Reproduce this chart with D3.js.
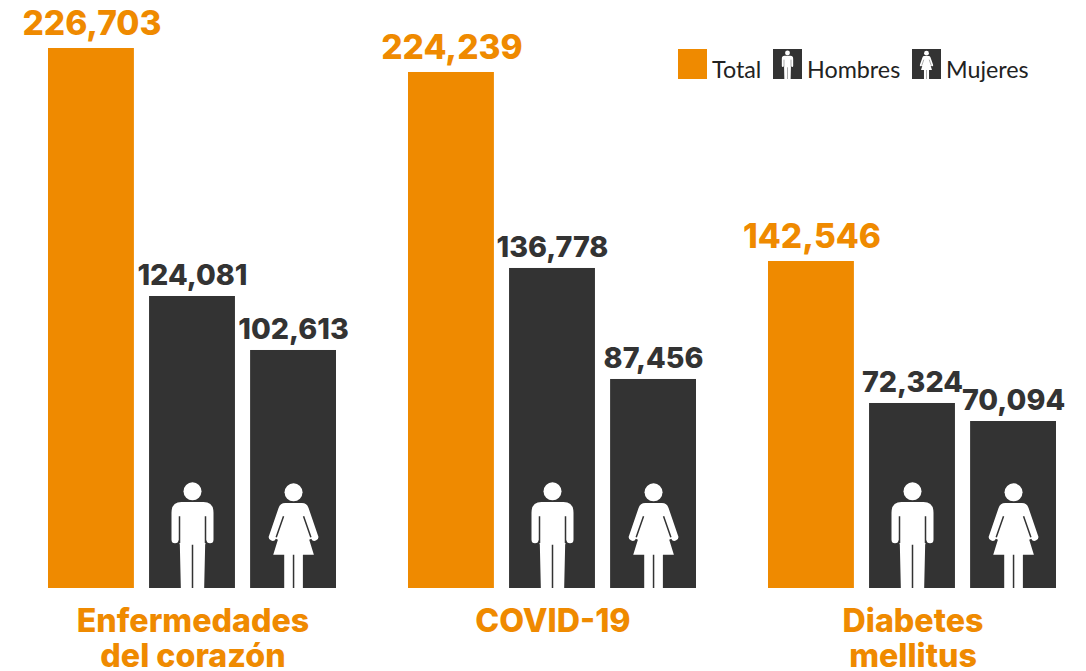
<!DOCTYPE html>
<html><head><meta charset="utf-8">
<script src="https://cdn.jsdelivr.net/npm/d3@7"></script>
<style>html,body{margin:0;background:#fff}svg{display:block}</style></head>
<body><svg id="c" width="1086" height="671"></svg>
<script>
const categories = [["Enfermedades","del corazón"],["COVID-19"],["Diabetes","mellitus"]];
const seriesNames = ["Total","Hombres","Mujeres"];
const totalLabels = [226703,224239,142546];
const menLabels = [124081,136778,72324];
const womenLabels = [102613,87456,70094];
// The reference's bars are not strictly proportional to their labels: these are the heights as drawn, in label units.
const totalDrawn = [226703,216630,137280];
const menDrawn = [122590,134350,77670];
const womenDrawn = [99920,87750,70110];

const ORANGE="#EF8A00", DARK="#333333", FONT="Inter, Roboto, sans-serif";
const svg=d3.select("#c");
const x0=d3.scaleBand().domain(d3.range(categories.length)).range([48,1056]).paddingInner(0.2);
const x1=d3.scaleBand().domain(d3.range(3)).range([0,x0.bandwidth()]).paddingInner(0.15);
const y=d3.scaleLinear().domain([0,226703]).range([588,48]);
const fmt=d3.format(",");

const manBody="M-33,-258 L33,-258 Q63,-258 63,-226 L63,-145 A10.5,10.5 0 0 1 42,-145 L38,-130 L35,0 L-35,0 L-38,-130 L-42,-145 A10.5,10.5 0 0 1 -63,-145 L-63,-226 Q-63,-258 -33,-258 Z";
const manCuts="M-39,-215 L-39,-135 M39,-215 L39,-135 M0,-130 L0,0";
const womanBody="M-25,-255 L25,-255 Q40,-255 45,-240 L73,-158 A10,10 0 0 1 53,-148 L47,-145 L61,-100 L28,-100 L28,0 L-28,0 L-28,-100 L-61,-100 L-47,-145 L-53,-148 A10,10 0 0 1 -73,-158 L-45,-240 Q-40,-255 -25,-255 Z";
const womanCuts="M30,-215 L52,-152 M-30,-215 L-52,-152 M0,-100 L0,0";
function figure(g,kind,cx,by,k){
  const f=g.append("g").attr("transform",`translate(${cx},${by}) scale(${k})`);
  f.append("circle").attr("cy",kind==="m"?-290:-287).attr("r",27).attr("fill","#fff");
  f.append("path").attr("d",kind==="m"?manBody:womanBody).attr("fill","#fff");
  f.append("path").attr("d",kind==="m"?manCuts:womanCuts).attr("fill","none").attr("stroke",DARK).attr("stroke-width",4.5);
}
const rows=[totalDrawn,menDrawn,womenDrawn], labels=[totalLabels,menLabels,womenLabels];
categories.forEach((cat,i)=>{
  const g=svg.append("g").attr("transform",`translate(${x0(i)},0)`);
  rows.forEach((r,j)=>{
    const bx=x1(j), w=x1.bandwidth(), v=r[i];
    g.append("rect").attr("x",bx).attr("y",y(v)).attr("width",w).attr("height",y(0)-y(v)).attr("fill",j?DARK:ORANGE);
    g.append("text").attr("x",bx+w/2+(j?0.5:1)).attr("y",y(v)-(j?11:13)).attr("text-anchor","middle")
      .attr("font-family",FONT).attr("font-weight",800).attr("font-size",j?28.7:33.5).attr("fill",j?DARK:ORANGE).text(fmt(labels[j][i]));
    if(j) figure(g,j===1?"m":"w",bx+w/2+0.5,y(0),1/3);
  });
  g.selectAll("text.cat").data(cat).join("text").attr("class","cat")
    .attr("x",x0.bandwidth()/2+1).attr("y",(d,k)=>632+k*35).attr("text-anchor","middle")
    .attr("font-family",FONT).attr("font-weight",800).attr("font-size",32.2).attr("fill",ORANGE).text(d=>d);
});
// legend
const lx=d3.scaleOrdinal().domain(seriesNames).range([678,773,912]);
seriesNames.forEach((n,j)=>{
  const sx=lx(n);
  svg.append("rect").attr("x",sx).attr("y",49).attr("width",29).attr("height",30).attr("fill",j?DARK:ORANGE);
  if(j) figure(svg,j===1?"m":"w",sx+14.5,79,0.09);
  svg.append("text").attr("x",sx+34).attr("y",78).attr("font-family","Lato, sans-serif").attr("font-size",23.3).attr("fill","#222").text(n);
});
</script></body></html>
